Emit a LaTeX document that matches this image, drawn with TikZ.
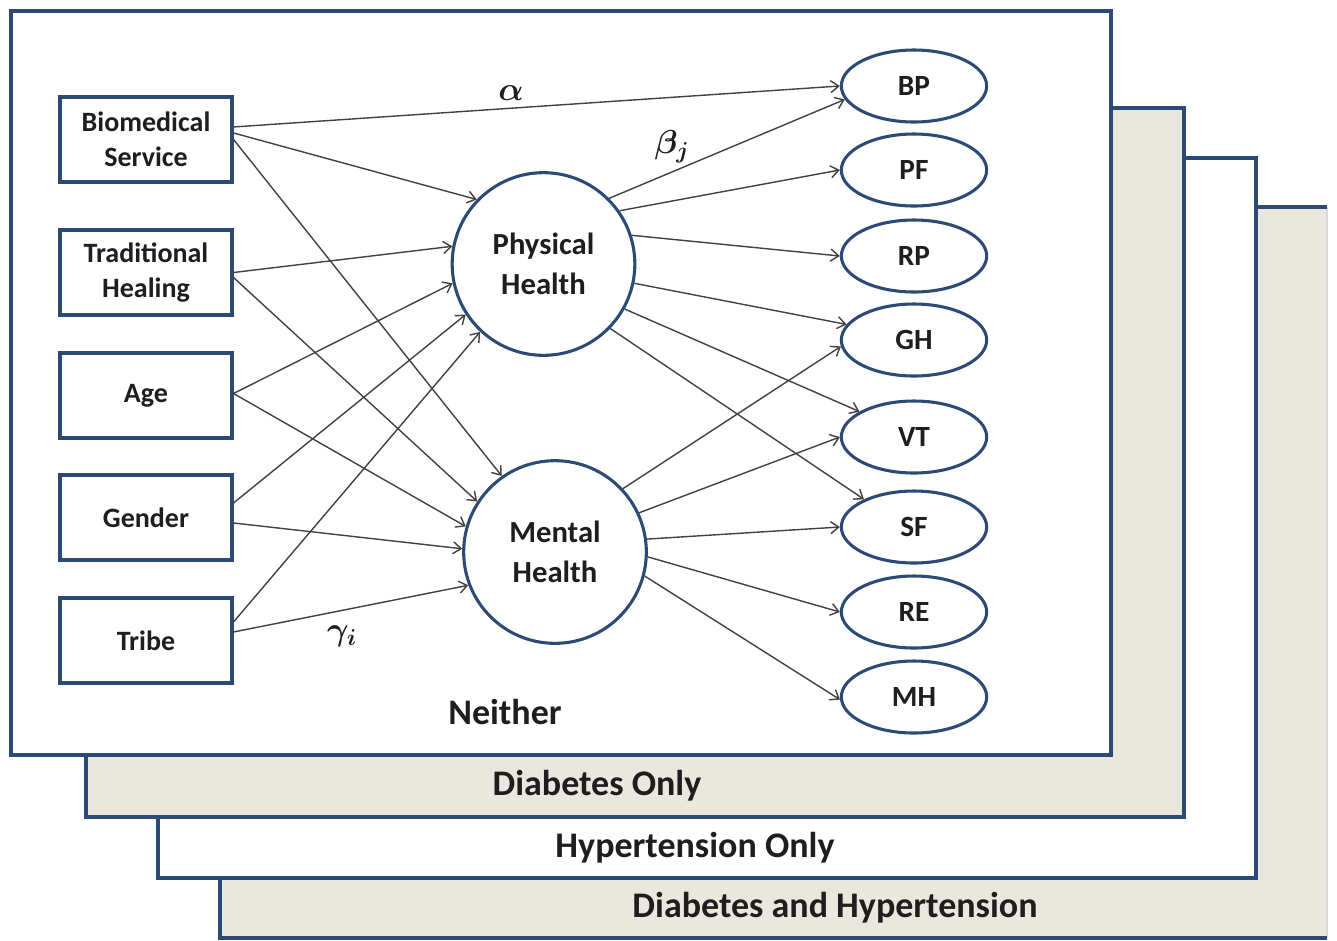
\documentclass[tikz,border=0pt]{standalone}
\usepackage{amsmath}
\usepackage{fontspec}
\setmainfont{Carlito}
\usetikzlibrary{arrows.meta,shapes.geometric}
\definecolor{navy}{RGB}{44,74,118}
\definecolor{beige}{RGB}{234,231,222}
\definecolor{arrowgray}{RGB}{65,65,65}
\definecolor{txt}{RGB}{30,30,30}
\tikzset{
  panelline/.style={draw=navy,line width=3pt},
  inbox/.style={draw=navy,line width=2.3pt,fill=white,minimum width=129pt,minimum height=63.75pt,
    inner sep=0pt,align=center,font=\bfseries\fontsize{21}{26}\selectfont,text=txt},
  latent/.style={circle,draw=navy,line width=2.3pt,fill=white,minimum size=137pt,inner sep=0pt,
    align=center,font=\bfseries\fontsize{23}{30}\selectfont,text=txt},
  indic/.style={ellipse,draw=navy,line width=2.3pt,fill=white,minimum width=109pt,minimum height=54pt,
    inner sep=0pt,font=\bfseries\fontsize{22}{26}\selectfont,text=txt},
  arr/.style={draw=arrowgray,line width=1.05pt,-{Straight Barb[length=6pt,width=9pt]}},
  lbl/.style={font=\bfseries\fontsize{27}{32}\selectfont,text=txt},
  coef/.style={font=\fontsize{25}{28}\selectfont,text=txt}
}
\begin{document}
\begin{tikzpicture}[x=0.75pt,y=-0.75pt]
\useasboundingbox (0,0) rectangle (1337,940);
% panel 4
\fill[beige] (220,207) rectangle (1327,938);
\draw[draw=black!15,line width=1pt] (1327,207) -- (1327,938);
\draw[panelline] (1327,207) -- (220,207) -- (220,938) -- (1327,938);
\node[lbl] (p4) at (835,908) {Diabetes and Hypertension};
% panel 3
\draw[panelline,fill=white] (158,158) rectangle (1256,878);
\node[lbl] (p3) at (695,848) {Hypertension Only};
% panel 2
\draw[panelline,fill=beige] (86,108) rectangle (1184,817);
\node[lbl] (p2) at (597,786) {Diabetes Only};
% panel 1
\draw[panelline,fill=white] (11,11) rectangle (1111,755);
\node[lbl] (p1) at (505,712) {Neither};

% exogenous boxes
\node[inbox] (bio) at (146,139.5) {Biomedical\\Service};
\node[inbox] (trad) at (146,272.5) {Traditional\\Healing};
\node[inbox] (age) at (146,395.5) {Age};
\node[inbox] (gen) at (146,517.5) {Gender};
\node[inbox] (tribe) at (146,640.5) {Tribe};

% latent
\node[latent] (phys) at (543.5,264) {Physical\\Health};
\node[latent] (ment) at (555,552) {Mental\\Health};

% indicators
\node[indic] (bp) at (914,86) {BP};
\node[indic] (pf) at (914,170) {PF};
\node[indic] (rp) at (914,256) {RP};
\node[indic] (gh) at (914,340) {GH};
\node[indic] (vt) at (914,437) {VT};
\node[indic] (sf) at (914,527) {SF};
\node[indic] (re) at (914,612) {RE};
\node[indic] (mh) at (914,697) {MH};

% box -> latent / BP
\draw[arr] ([yshift=9.4pt]bio.east) -- (bp.180);
\draw[arr] ([yshift=4.9pt]bio.east) -- (phys.136);
\draw[arr] (bio.east) -- (ment.125);
\draw[arr] (trad.east) -- (phys.169);
\draw[arr] ([yshift=-3.75pt]trad.east) -- (ment.147);
\draw[arr] ([yshift=1.5pt]age.east) -- (phys.192);
\draw[arr] ([yshift=1.5pt]age.east) -- (ment.164);
\draw[arr] ([yshift=10.9pt]gen.east) -- (phys.213);
\draw[arr] ([yshift=-4.1pt]gen.east) -- (ment.178);
\draw[arr] ([yshift=13.9pt]tribe.east) -- (phys.227);
\draw[arr] ([yshift=6.4pt]tribe.east) -- (ment.201);

% physical -> indicators
\draw[arr] (phys.45) -- (bp.191);
\draw[arr] (phys.35) -- (pf.180);
\draw[arr] (phys.18) -- (rp.180);
\draw[arr] (phys.-12) -- (gh.167);
\draw[arr] (phys.-29) -- (vt.155);
\draw[arr] (phys.-44) -- (sf.151);

% mental -> indicators
\draw[arr] (ment.43) -- (gh.185);
\draw[arr] (ment.25) -- (vt.180);
\draw[arr] (ment.8) -- (sf.180);
\draw[arr] (ment.-3) -- (re.180);
\draw[arr] (ment.-15) -- (mh.182);

% coefficient labels
\node[coef] (la) at (511,93) {$\boldsymbol{\alpha}$};
\node[coef] (lb) at (672,147) {$\boldsymbol{\beta_j}$};
\node[coef] (lg) at (342,636) {$\boldsymbol{\gamma_i}$};
\end{tikzpicture}
\end{document}
